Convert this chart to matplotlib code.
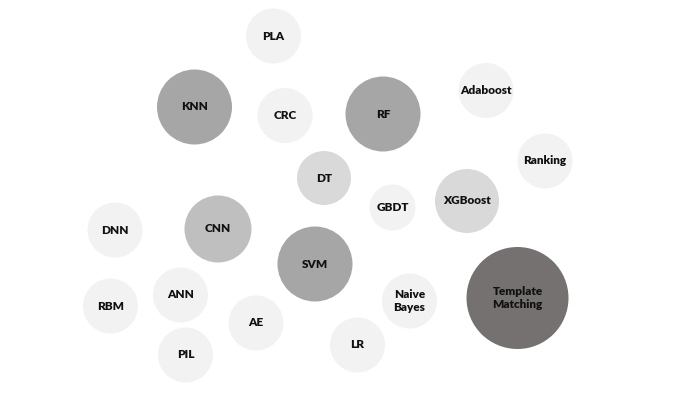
import matplotlib
matplotlib.use("Agg")
import matplotlib.pyplot as plt
from matplotlib.patches import Circle

labels = ["PLA", "KNN", "CRC", "RF", "Adaboost", "Ranking", "DT", "GBDT", "XGBoost",
          "DNN", "CNN", "SVM", "Template\nMatching", "Naive\nBayes", "RBM", "ANN", "AE", "LR", "PIL"]
x_vals = [273.5, 194.5, 285, 383, 486, 545, 324, 392.5, 467,
          115, 218, 315, 517.5, 409.5, 110.5, 180.5, 256, 357.5, 185.5]
y_vals = [36, 107, 115.5, 114, 90.5, 161, 178, 207.5, 201,
          230, 229, 264, 298, 301, 306, 295, 323, 345, 355]
radii = [27.5, 37.5, 27.5, 37.5, 27.5, 27.5, 27, 23, 32,
         27.5, 33.5, 37.5, 51, 27.5, 27.5, 27.5, 27.5, 27.5, 27.5]
colors = ["#F2F2F2", "#A6A6A6", "#F2F2F2", "#A6A6A6", "#F2F2F2", "#F2F2F2", "#D9D9D9", "#F2F2F2", "#D9D9D9",
          "#F2F2F2", "#BFBFBF", "#A6A6A6", "#767171", "#F2F2F2", "#F2F2F2", "#F2F2F2", "#F2F2F2", "#F2F2F2", "#F2F2F2"]

fig = plt.figure(figsize=(6.88, 3.96), dpi=100)
ax = fig.add_axes([0, 0, 1, 1])
ax.set_xlim(0, 688)
ax.set_ylim(396, 0)
ax.set_aspect("equal")
ax.axis("off")

for lab, x, y, r, c in zip(labels, x_vals, y_vals, radii, colors):
    ax.add_patch(Circle((x, y), r, facecolor=c, edgecolor="none"))
    ax.text(x, y, lab, ha="center", va="center", fontsize=8.5, fontweight="heavy",
            family=["Lato", "DejaVu Sans"], color="#111111", linespacing=1.3)

fig.savefig("out.png", dpi=100, facecolor="white")
